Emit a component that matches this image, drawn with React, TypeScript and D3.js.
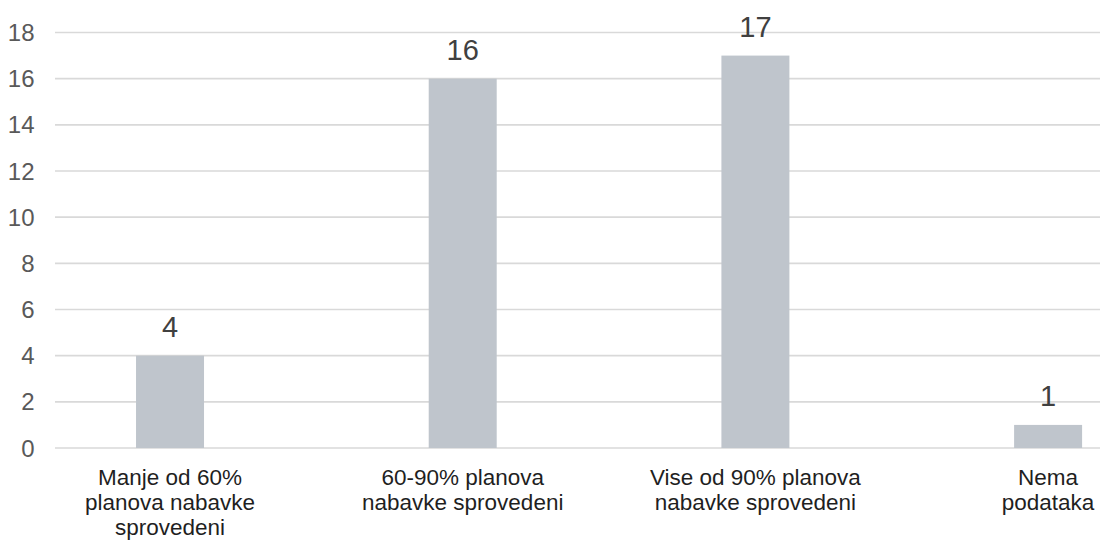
import React from "react";
import * as d3 from "d3";

// Number of procurement-plan realisations per category
const categories = [
  "Manje od 60% planova nabavke sprovedeni",
  "60-90% planova nabavke sprovedeni",
  "Vise od 90% planova nabavke sprovedeni",
  "Nema podataka",
];
const categoryLines = [
  ["Manje od 60%", "planova nabavke", "sprovedeni"],
  ["60-90% planova", "nabavke sprovedeni"],
  ["Vise od 90% planova", "nabavke sprovedeni"],
  ["Nema", "podataka"],
];
const values = [4, 16, 17, 1];
const yTicks = [0, 2, 4, 6, 8, 10, 12, 14, 16, 18];

const W = 1102;
const H = 540;
const FONT = "'Liberation Sans', Arial, Helvetica, sans-serif";

export default function App() {
  const x = d3
    .scaleBand<string>()
    .domain(categories)
    .range([55, 1100])
    .paddingInner(0.7677)
    .paddingOuter(0.169)
    .align(0.819);
  const y = d3.scaleLinear().domain([0, 18]).range([448, 32.5]);
  const cx = (c: string) => (x(c) ?? 0) + x.bandwidth() / 2;

  return (
    <svg
      width={W}
      height={H}
      viewBox={`0 0 ${W} ${H}`}
      style={{ position: "absolute", left: 0, top: 0, background: "#fff" }}
      fontFamily={FONT}
    >
      {/* horizontal gridlines */}
      {yTicks.map((t) => (
        <line
          key={`g${t}`}
          x1={55}
          x2={1100}
          y1={y(t)}
          y2={y(t)}
          stroke="#d9d9d9"
          strokeWidth={1.6}
        />
      ))}
      {/* y tick labels */}
      {yTicks.map((t) => (
        <text
          key={`t${t}`}
          x={34.5}
          y={y(t) + 8.5}
          textAnchor="end"
          fontSize={24}
          fill="#595959"
        >
          {t}
        </text>
      ))}
      {/* bars */}
      {categories.map((c, i) => (
        <rect
          key={`b${i}`}
          x={x(c)}
          y={y(values[i])}
          width={x.bandwidth()}
          height={y(0) - y(values[i])}
          fill="#bfc5cc"
        />
      ))}
      {/* value labels */}
      {categories.map((c, i) => (
        <text
          key={`v${i}`}
          x={cx(c)}
          y={y(values[i]) - 19}
          textAnchor="middle"
          fontSize={29}
          fill="#404040"
        >
          {values[i]}
        </text>
      ))}
      {/* category labels */}
      {categories.map((c, i) => (
        <text
          key={`c${i}`}
          x={cx(c)}
          y={485}
          textAnchor="middle"
          fontSize={22.5}
          fill="#1f1f1f"
        >
          {categoryLines[i].map((ln, j) => (
            <tspan key={j} x={cx(c)} dy={j === 0 ? 0 : 24.8}>
              {ln}
            </tspan>
          ))}
        </text>
      ))}
    </svg>
  );
}
